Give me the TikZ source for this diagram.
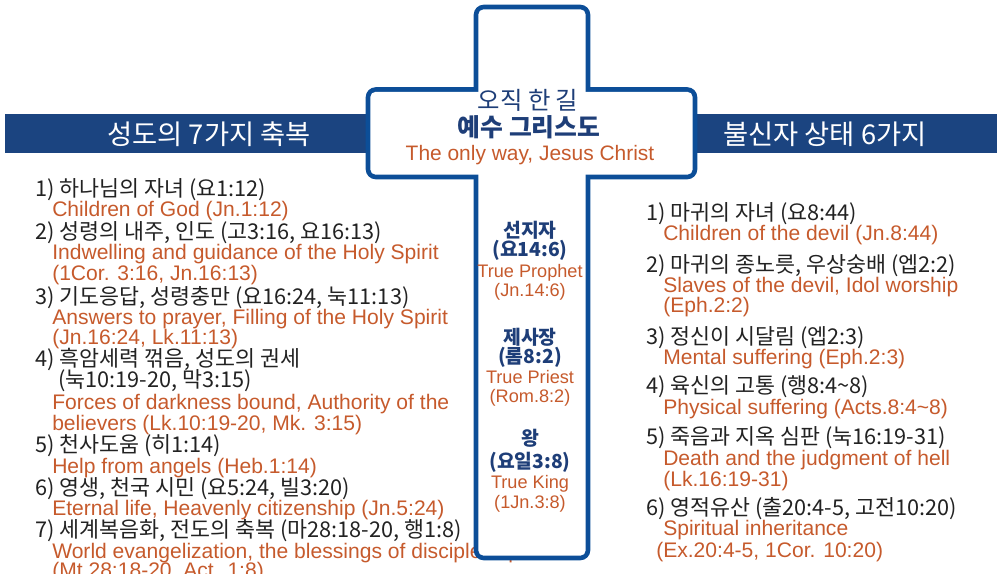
\documentclass[tikz,border=0pt]{standalone}
\usepackage{fontspec}
\setmainfont{Liberation Sans}
\newfontfamily\kr{Noto Sans CJK KR}
\definecolor{navy}{RGB}{27,68,128}
\definecolor{crossblue}{RGB}{12,78,152}
\definecolor{org}{RGB}{198,90,44}
\definecolor{ink}{RGB}{34,34,34}
\definecolor{dnavy}{RGB}{30,62,120}
\begin{document}
\begin{tikzpicture}[x=0.75pt,y=-0.75pt,
  kor/.style={anchor=base west, inner sep=0pt, text=ink, font=\kr\fontsize{16.3}{19}\selectfont},
  eng/.style={anchor=base west, inner sep=0pt, text=org, font=\fontsize{15.8}{18}\selectfont},
  ckor/.style={anchor=base, inner sep=0pt, text=dnavy, font=\kr\bfseries\fontsize{14.5}{17}\selectfont},
  ceng/.style={anchor=base, inner sep=0pt, text=org, font=\fontsize{13.6}{16}\selectfont},
  band/.style={anchor=base, inner sep=0pt, text=white, font=\kr\fontsize{20.5}{23}\selectfont},
  rim/.style={fill=crossblue, rounded corners=7.5pt},
  inside/.style={fill=white, rounded corners=4pt}]
\useasboundingbox (0,0) rectangle (1003,574);
\clip (0,0) rectangle (1003,574);
% banner behind the cross
\fill[navy] (5,114) rectangle (997,153);
\node(b1) at (209,145) [band]{성도의 7가지 축복};
\node(b2) at (825,145) [band]{불신자 상태 6가지};
% left list
\node(l1) at (35,197) [kor]{1) 하나님의 자녀 (요1:12)};
\node(l1e) at (52,216) [eng]{Children of God (Jn.1:12)};
\node(l2) at (35,239) [kor]{2) 성령의 내주, 인도 (고3:16, 요16:13)};
\node(l2e) at (52,259) [eng]{Indwelling and guidance of the Holy Spirit};
\node(l2f) at (52,280) [eng]{(1Cor. 3:16, Jn.16:13)};
\node(l3) at (35,304) [kor]{3) 기도응답, 성령충만 (요16:24, 눅11:13)};
\node(l3e) at (52,324) [eng]{Answers to prayer, Filling of the Holy Spirit};
\node(l3f) at (52,344) [eng]{(Jn.16:24, Lk.11:13)};
\node(l4) at (35,366) [kor]{4) 흑암세력 꺾음, 성도의 권세};
\node(l4b) at (58,387) [kor]{(눅10:19-20, 막3:15)};
\node(l4e) at (52,409) [eng]{Forces of darkness bound, Authority of the};
\node(l4f) at (52,430) [eng]{believers (Lk.10:19-20, Mk. 3:15)};
\node(l5) at (35,452) [kor]{5) 천사도움 (히1:14)};
\node(l5e) at (52,473) [eng]{Help from angels (Heb.1:14)};
\node(l6) at (35,495) [kor]{6) 영생, 천국 시민 (요5:24, 빌3:20)};
\node(l6e) at (52,515) [eng]{Eternal life, Heavenly citizenship (Jn.5:24)};
\node(l7) at (35,537) [kor]{7) 세계복음화, 전도의 축복 (마28:18-20, 행1:8)};
\node(l7e) at (52,558) [eng]{World evangelization, the blessings of discipleship};
\node(l7f) at (52,577) [eng]{(Mt.28:18-20, Act. 1:8)};
% right list
\node(r1) at (646,220) [kor]{1) 마귀의 자녀 (요8:44)};
\node(r1e) at (663,240) [eng]{Children of the devil (Jn.8:44)};
\node(r2) at (646,272) [kor]{2) 마귀의 종노릇, 우상숭배 (엡2:2)};
\node(r2e) at (663,292) [eng]{Slaves of the devil, Idol worship};
\node(r2f) at (663,312) [eng]{(Eph.2:2)};
\node(r3) at (646,344) [kor]{3) 정신이 시달림 (엡2:3)};
\node(r3e) at (663,364) [eng]{Mental suffering (Eph.2:3)};
\node(r4) at (646,393) [kor]{4) 육신의 고통 (행8:4\textasciitilde 8)};
\node(r4e) at (663,414) [eng]{Physical suffering (Acts.8:4\textasciitilde 8)};
\node(r5) at (646,444) [kor]{5) 죽음과 지옥 심판 (눅16:19-31)};
\node(r5e) at (663,465) [eng]{Death and the judgment of hell};
\node(r5f) at (663,486) [eng]{(Lk.16:19-31)};
\node(r6) at (646,515) [kor]{6) 영적유산 (출20:4-5, 고전10:20)};
\node(r6e) at (663,535) [eng]{Spiritual inheritance};
\node(r6f) at (656,557) [eng]{(Ex.20:4-5, 1Cor. 10:20)};
% the cross: blue rim, then white inside
\fill[rim] (473.7,4.7) rectangle (590.3,560.3);
\fill[rim] (365.7,87.2) rectangle (697.3,179.3);
\fill[inside] (478.3,9.3) rectangle (585.7,555.7);
\fill[inside] (370.3,91.8) rectangle (692.7,174.7);
\node(t1) at (528,110) [anchor=base, inner sep=0pt, text=dnavy, font=\kr\fontsize{18.3}{21}\selectfont]{오직 한 길};
\node(t2) at (529,137) [anchor=base, inner sep=0pt, text=dnavy, font=\kr\bfseries\fontsize{18.6}{21}\selectfont]{예수 그리스도};
\node(t3) at (530,161) [anchor=base, inner sep=0pt, text=org, font=\fontsize{15.7}{18}\selectfont]{The only way, Jesus Christ};
% three offices
\node(c1) at (530,238) [ckor]{선지자};
\node(c1a) at (530,256) [ckor]{(요14:6)};
\node(c1e) at (530,277) [ceng]{True Prophet};
\node(c1f) at (530,296) [ceng]{(Jn.14:6)};
\node(c2) at (530,344) [ckor]{제사장};
\node(c2a) at (530,363) [ckor]{(롬8:2)};
\node(c2e) at (530,383) [ceng]{True Priest};
\node(c2f) at (530,402) [ceng]{(Rom.8:2)};
\node(c3) at (530,445) [ckor]{왕};
\node(c3a) at (530,468) [ckor]{(요일3:8)};
\node(c3e) at (530,488) [ceng]{True King};
\node(c3f) at (530,508) [ceng]{(1Jn.3:8)};
\end{tikzpicture}
\end{document}
